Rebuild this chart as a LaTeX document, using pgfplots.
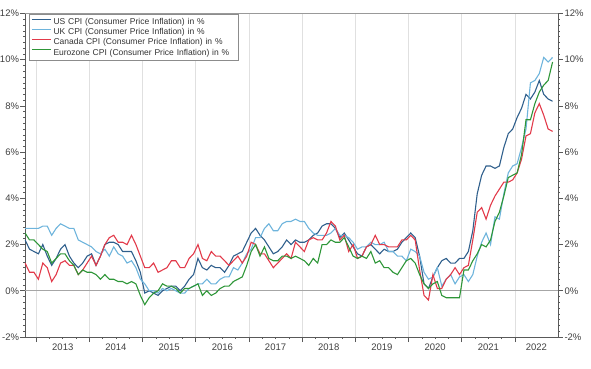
\documentclass[border=0pt]{standalone}
\usepackage{fontspec}
\setmainfont{Liberation Sans}
\usepackage{pgfplots}
\usepackage{pgfplotstable}
\pgfplotsset{compat=1.18}
\definecolor{usc}{RGB}{47,95,140}
\definecolor{ukc}{RGB}{110,180,220}
\definecolor{cac}{RGB}{226,58,74}
\definecolor{ezc}{RGB}{46,150,56}
\pgfplotstableread{
us uk ca ez
2.2 2.7 1.2 2.5
1.8 2.7 0.8 2.2
1.7 2.7 0.8 2.2
1.6 2.7 0.5 2.0
2.0 2.8 1.2 1.8
1.5 2.8 1.0 1.7
1.1 2.4 0.4 1.2
1.4 2.7 0.7 1.4
1.8 2.9 1.2 1.6
2.0 2.8 1.3 1.6
1.5 2.7 1.1 1.3
1.2 2.7 1.1 1.1
1.0 2.2 0.7 0.7
1.2 2.1 0.9 0.9
1.5 2.0 1.2 0.8
1.6 1.9 1.5 0.8
1.1 1.7 1.1 0.7
1.5 1.6 1.5 0.5
2.0 1.8 2.0 0.7
2.1 1.5 2.3 0.5
2.1 1.9 2.4 0.5
2.0 1.6 2.1 0.4
1.7 1.5 2.1 0.4
1.7 1.2 2.0 0.3
1.7 1.3 2.4 0.4
1.3 1.0 2.0 0.3
0.8 0.5 1.5 -0.2
-0.1 0.3 1.0 -0.6
0.0 0.0 1.0 -0.3
-0.1 0.0 1.2 -0.1
-0.2 -0.1 0.8 0.0
0.0 0.1 0.9 0.3
0.1 0.0 1.0 0.2
0.2 0.1 1.3 0.2
0.2 0.0 1.3 0.1
0.0 -0.1 1.0 -0.1
0.2 -0.1 1.0 0.1
0.5 0.1 1.4 0.1
0.7 0.2 1.6 0.2
1.4 0.3 2.0 0.3
1.0 0.3 1.4 -0.2
0.9 0.5 1.3 0.0
1.1 0.3 1.7 -0.2
1.0 0.3 1.5 -0.1
1.0 0.5 1.5 0.1
0.8 0.6 1.3 0.2
1.1 0.6 1.1 0.2
1.5 1.0 1.3 0.4
1.6 0.9 1.5 0.5
1.7 1.2 1.2 0.6
2.1 1.6 1.5 1.1
2.5 1.8 2.1 1.7
2.7 2.3 2.0 2.0
2.4 2.3 1.6 1.5
2.2 2.7 1.6 1.9
1.9 2.9 1.3 1.4
1.6 2.6 1.0 1.3
1.7 2.6 1.2 1.3
1.9 2.9 1.4 1.5
2.2 3.0 1.6 1.5
2.0 3.0 1.4 1.4
2.2 3.1 2.1 1.5
2.1 3.0 1.9 1.4
2.1 3.0 1.7 1.3
2.2 2.7 2.2 1.1
2.4 2.5 2.3 1.4
2.5 2.4 2.2 1.2
2.8 2.4 2.2 2.0
2.9 2.4 2.5 2.0
2.9 2.5 3.0 2.2
2.7 2.7 2.8 2.1
2.3 2.4 2.2 2.1
2.5 2.4 2.4 2.3
2.2 2.3 1.7 1.9
1.9 2.1 2.0 1.5
1.6 1.8 1.4 1.4
1.5 1.9 1.5 1.5
1.9 1.9 1.9 1.4
2.0 2.1 2.0 1.7
1.8 2.0 2.4 1.2
1.6 2.0 2.0 1.3
1.8 2.1 2.0 1.0
1.7 1.7 1.9 1.0
1.7 1.7 1.9 0.8
1.8 1.5 1.9 0.7
2.1 1.5 2.2 1.0
2.3 1.3 2.2 1.3
2.5 1.8 2.4 1.4
2.3 1.7 2.2 1.2
1.5 1.5 0.9 0.7
0.3 0.8 -0.2 0.3
0.1 0.5 -0.4 0.1
0.6 0.6 0.7 0.3
1.0 1.0 0.1 0.4
1.3 0.2 0.1 -0.2
1.4 0.5 0.5 -0.3
1.2 0.7 0.7 -0.3
1.2 0.3 1.0 -0.3
1.4 0.6 0.7 -0.3
1.4 0.7 1.0 0.9
1.7 0.4 1.1 0.9
2.6 0.7 2.2 1.3
4.2 1.5 3.4 1.6
5.0 2.1 3.6 2.0
5.4 2.5 3.1 1.9
5.4 2.0 3.7 2.2
5.3 3.2 4.1 3.0
5.4 3.1 4.4 3.4
6.2 4.2 4.7 4.1
6.8 5.1 4.7 4.9
7.0 5.4 4.8 5.0
7.5 5.5 5.1 5.1
7.9 6.2 5.7 5.9
8.5 7.0 6.7 7.4
8.3 9.0 6.8 7.4
8.6 9.1 7.7 8.1
9.1 9.4 8.1 8.6
8.5 10.1 7.6 8.9
8.3 9.9 7.0 9.1
8.2 10.1 6.9 9.9
}\cpidata
\begin{document}
\begin{tikzpicture}[x=1pt,y=1pt]
\useasboundingbox (-25,-32) rectangle (566,337);
\pgfplotsset{
  common/.style={
    at={(0,0)}, anchor=south west,
    scale only axis, width=533pt, height=323.5pt,
    xmin=2012.79, xmax=2022.81, ymin=-2, ymax=12,
    ytick={-2,0,2,4,6,8,10,12},
    yticklabels={-2\%,0\%,2\%,4\%,6\%,8\%,10\%,12\%},
    minor y tick num=7,
    tick align=outside,
    major tick length=5pt, minor tick length=2pt,
    tick style={black!65, line width=0.6pt},
    axis line style={black!65, line width=0.7pt},
    ticklabel style={font=\fontsize{9.5}{11}\selectfont, text=black!75},
  }
}
\begin{axis}[common,
  ytick pos=left, xtick pos=left,
  yticklabel style={xshift=2.5pt},
  xtick={2013,2014,2015,2016,2017,2018,2019,2020,2021,2022},
  xticklabels={},
  minor x tick num=3,
  xmajorgrids=true,
  x grid style={black!12, line width=0.6pt},
  extra x ticks={2013.5,2014.5,2015.5,2016.5,2017.5,2018.5,2019.5,2020.5,2021.5,2022.405},
  extra x tick labels={2013,2014,2015,2016,2017,2018,2019,2020,2021,2022},
  extra x tick style={grid=none, tick style={draw=none}, xticklabel style={yshift=1.5pt}},
  legend style={at={(0.0075,0.998)}, anchor=north west, draw=black!45, line width=0.6pt,
    font=\fontsize{8.5}{9}\selectfont, text=black!80, inner xsep=2pt, inner ysep=2pt,
    row sep=-1.5pt, cells={text width=181pt}},
  legend cell align=left,
  legend image code/.code={\draw[#1, line width=1.2pt] (0pt,3pt) -- (19pt,3pt);},
  extra description/.code={\draw[black!40, line width=1.5pt] (rel axis cs:0,1) -- (rel axis cs:1,1);},
]
\addplot[black!35, line width=1pt, forget plot] coordinates {(2012.79,0) (2022.81,0)};
\addplot[usc, line width=1.1pt] table[x expr={2012.7917+\coordindex/12}, y=us] {\cpidata};
\addlegendentry{US CPI (Consumer Price Inflation) in \%}
\addplot[ukc, line width=1.1pt] table[x expr={2012.7917+\coordindex/12}, y=uk] {\cpidata};
\addlegendentry{UK CPI (Consumer Price Inflation) in \%}
\addplot[cac, line width=1.1pt] table[x expr={2012.7917+\coordindex/12}, y=ca] {\cpidata};
\addlegendentry{Canada CPI (Consumer Price Inflation) in \%}
\addplot[ezc, line width=1.1pt] table[x expr={2012.7917+\coordindex/12}, y=ez] {\cpidata};
\addlegendentry{Eurozone CPI (Consumer Price Inflation) in \%}
\end{axis}
\begin{axis}[common,
  axis y line*=right, axis x line=none,
  yticklabel style={xshift=-2pt},
]
\addplot[draw=none] coordinates {(2013,0)};
\end{axis}
\end{tikzpicture}
\end{document}
